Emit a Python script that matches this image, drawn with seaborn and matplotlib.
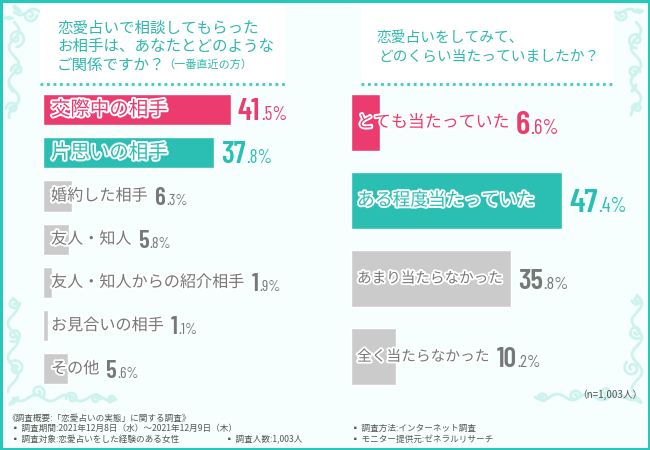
import numpy as np
import pandas as pd
import matplotlib
matplotlib.use("Agg")
import matplotlib.pyplot as plt
import matplotlib.patheffects as pe
from matplotlib.patches import Rectangle, Ellipse
import seaborn as sns

# ─── Data ─────────────────────────────────────────────────────────────
LEFT_CATEGORIES = ["交際中の相手", "片思いの相手", "婚約した相手", "友人・知人",
                   "友人・知人からの紹介相手", "お見合いの相手", "その他"]
LEFT_VALUES = [41.5, 37.8, 6.3, 5.8, 1.9, 1.1, 5.6]
RIGHT_CATEGORIES = ["とても当たっていた", "ある程度当たっていた",
                    "あまり当たらなかった", "全く当たらなかった"]
RIGHT_VALUES = [6.6, 47.4, 35.8, 10.2]

PINK = "#EC3B6E"
TEAL = "#2BBFB3"
GRAY = "#CBCBCB"
GRAY_TEXT = "#777777"
TITLE_COLOR = "#2FB8AC"
FOOT_COLOR = "#555555"
ORNAMENT = "#CDF3EE"
BACKGROUND = "#F6FFFD"
LEFT_COLORS = [PINK, TEAL] + [GRAY] * 5
RIGHT_COLORS = [PINK, TEAL, GRAY, GRAY]
LEFT_TEXT = [PINK, TEAL] + [GRAY_TEXT] * 5
RIGHT_TEXT = [PINK, TEAL, GRAY_TEXT, GRAY_TEXT]

# full-width signs as in the source
LP, RP, QM, WAVE = "\uff08", "\uff09", "\uff1f", "\uff5e"

sns.set_theme(style="white")
plt.rcParams["font.family"] = ["Noto Sans CJK JP", "DejaVu Sans"]
NUM_FONT = ["Barlow Condensed", "Roboto", "DejaVu Sans"]
PX = 0.72  # points per pixel at dpi 100
W, H = 650, 450


def px_axes(fig, x0, y0, x1, y1):
    """Axes placed by pixel box, y measured from the top."""
    return fig.add_axes([x0 / W, 1 - y1 / H, (x1 - x0) / W, (y1 - y0) / H])


def curl(ax, cx, cy, r, start=0.0, turns=1.3, flip=1, lw=2.0):
    """Small spiral used for the corner ornaments."""
    t = np.linspace(0, turns * 2 * np.pi, 60)
    rad = r * (1 - t / t.max() * 0.8)
    ax.plot(cx + rad * np.cos(start + flip * t), cy + rad * np.sin(start + flip * t),
            color=ORNAMENT, lw=lw, solid_capstyle="round", zorder=2)


def leaf(ax, cx, cy, w, h, angle):
    ax.add_patch(Ellipse((cx, cy), w, h, angle=angle, color=ORNAMENT, lw=0, zorder=2))


def vine_v(ax, x, y0, y1, amp=5, period=34):
    y = np.linspace(y0, y1, 80)
    ax.plot(x + amp * np.sin((y - y0) / period * 2 * np.pi), y, color=ORNAMENT, lw=2.0, zorder=2)


def vine_h(ax, y, x0, x1, amp=3, period=30):
    x = np.linspace(x0, x1, 80)
    ax.plot(x, y + amp * np.sin((x - x0) / period * 2 * np.pi), color=ORNAMENT, lw=2.0, zorder=2)


def draw_ornaments(ax):
    # top left
    vine_v(ax, 14, 22, 118)
    vine_h(ax, 12, 14, 40, amp=3, period=26)
    for cx, cy, r, s, f in [(30, 15, 7, 0, 1), (16, 38, 9, 1.5, -1), (17, 70, 6, 3, 1),
                            (12, 108, 6, 3, 1)]:
        curl(ax, cx, cy, r, s, flip=f)
    leaf(ax, 17, 9, 12, 5, 40)
    leaf(ax, 8, 18, 12, 4, 0)
    leaf(ax, 11, 88, 11, 4, 60)
    # bottom left
    vine_v(ax, 13, 298, 392)
    vine_h(ax, 398, 13, 116)
    for cx, cy, r, s, f in [(14, 303, 6, 0, 1), (14, 335, 7, 2, -1), (16, 368, 8, 4, 1),
                            (38, 392, 7, 1, -1), (72, 398, 6, 3, 1), (96, 399, 5, 0, -1),
                            (112, 399, 4, 2, 1)]:
        curl(ax, cx, cy, r, s, flip=f)
    leaf(ax, 14, 401, 14, 5, -40)
    # top right
    vine_v(ax, 636, 22, 115)
    vine_h(ax, 11, 612, 640, amp=2, period=24)
    for cx, cy, r, s, f in [(622, 15, 6, 3, -1), (636, 40, 8, 1.5, 1), (634, 72, 6, 0, -1),
                            (637, 108, 5, 3, 1)]:
        curl(ax, cx, cy, r, s, flip=f)
    leaf(ax, 638, 11, 12, 5, 0)
    leaf(ax, 634, 88, 11, 4, -60)
    # bottom right
    vine_v(ax, 637, 295, 392)
    vine_h(ax, 397, 535, 637)
    for cx, cy, r, s, f in [(637, 300, 5, 3, -1), (636, 332, 7, 1, 1), (632, 368, 8, 4, -1),
                            (606, 393, 6, 2, 1), (575, 396, 6, 0, -1), (543, 398, 5, 3, 1)]:
        curl(ax, cx, cy, r, s, flip=f)
    leaf(ax, 637, 399, 14, 5, 40)


def draw_background(fig):
    ax = fig.add_axes([0, 0, 1, 1])
    ax.set_xlim(0, W)
    ax.set_ylim(H, 0)
    ax.set_axis_off()
    ax.add_patch(Rectangle((0, 0), W, H, color=BACKGROUND, lw=0, zorder=0))
    draw_ornaments(ax)
    # white header panels with dotted rule
    for x0, x1 in [(40, 285), (361, 614)]:
        ax.add_patch(Rectangle((x0, 5), x1 - x0, 79, color="white", lw=0, zorder=3))
        ax.plot([x0, x1], [84, 84], color="#3CCBC0", lw=2, ls=(0, (1, 1.35)), zorder=4)
    ax.add_patch(Rectangle((1, 1), W - 2, H - 2, fill=False, ec="#27C7BC", lw=2.2, zorder=5))

    # header text
    for y, line in [(28, "恋愛占いで相談してもらった"), (46, "お相手は、あなたとどのような"),
                    (65, "ご関係ですか" + QM)]:
        ax.text(57, y, line, fontsize=11.2, color=TITLE_COLOR, va="center", zorder=6)
    ax.text(163, 65, LP + "一番直近の方" + RP, fontsize=8, color=TITLE_COLOR, va="center", zorder=6)
    for y, x, line in [(38, 377, "恋愛占いをしてみて、"), (57, 378, "どのくらい当たっていましたか" + QM)]:
        ax.text(x, y, line, fontsize=10.6, color=TITLE_COLOR, va="center", zorder=6)

    # survey notes
    notes = [(7, 418, "《調査概要:「恋愛占いの実態」に関する調査》"),
             (11, 428, f"▪ 調査期間:2021年12月8日{LP}水{RP}{WAVE}2021年12月9日{LP}木{RP}"),
             (11, 439, "▪ 調査対象:恋愛占いをした経験のある女性"),
             (225, 439, "▪ 調査人数:1,003人"),
             (351, 428, "▪ 調査方法:インターネット調査"),
             (351, 439, "▪ モニター提供元:ゼネラルリサーチ")]
    for x, y, line in notes:
        ax.text(x, y, line, fontsize=6.2, color=FOOT_COLOR, va="center", zorder=6)
    ax.text(577, 395, f"{LP}n=1,003人{RP}", fontsize=7, color=FOOT_COLOR, va="center", zorder=6)


def draw_panel(fig, box, xmax, categories, values, colors, text_colors, bar_width,
               label_sizes, number_sizes, label_offset, number_gap):
    """One horizontal bar panel: bar, stroked label, then a big/small percentage."""
    ax = px_axes(fig, *box)
    df = pd.DataFrame({"category": categories, "value": values})
    sns.barplot(data=df, y="category", x="value", hue="category", dodge=False,
                palette=dict(zip(categories, colors)), legend=False, width=bar_width,
                saturation=1, ax=ax)
    ax.set_xlim(0, xmax)
    ax.set_ylim(len(categories) - 0.5, -0.5)
    ax.set_axis_off()
    ax.patch.set_visible(False)

    fig.canvas.draw()
    renderer = fig.canvas.get_renderer()
    for i, (cat, val) in enumerate(zip(categories, values)):
        stroke = [pe.withStroke(linewidth=2.8, foreground="white")]
        label = ax.annotate(cat, xy=(0, i), xytext=(label_offset * PX, 0),
                            textcoords="offset points", va="center", ha="left",
                            fontsize=label_sizes[i], color=text_colors[i],
                            path_effects=stroke, zorder=5)
        bar_end = ax.transData.transform((val, i))[0]
        text_end = label.get_window_extent(renderer).x1
        start = max(bar_end, text_end) + number_gap
        origin = ax.transData.transform((0, i))[0]

        # big digits and small decimals share one baseline
        size = number_sizes[i]
        base = -size * 0.35
        whole, frac = f"{val:.1f}".split(".")
        big = ax.annotate(whole, xy=(0, i), xytext=((start - origin) * PX, base),
                          textcoords="offset points", va="baseline", ha="left",
                          fontsize=size, fontweight=600,
                          color=text_colors[i], family=NUM_FONT, zorder=5)
        big_end = big.get_window_extent(renderer).x1 + 0.5
        ax.annotate(f".{frac}%", xy=(0, i), xytext=((big_end - origin) * PX, base),
                    textcoords="offset points", va="baseline", ha="left",
                    fontsize=size * 0.62, color=text_colors[i],
                    family=NUM_FONT, zorder=5)
    return ax


def main():
    fig = plt.figure(figsize=(6.5, 4.5), dpi=100)
    draw_background(fig)

    # 4.53 px per percent on the left, 4.46 on the right
    draw_panel(fig, (43, 88, 320, 390.4), 277 / 4.53, LEFT_CATEGORIES, LEFT_VALUES,
               LEFT_COLORS, LEFT_TEXT, 0.72, [14, 14, 11.6, 11.6, 11.6, 11.6, 11.6],
               [22, 21.5, 18, 18, 18, 18, 18], 8, 7)
    draw_panel(fig, (351, 83, 630, 396), 279 / 4.46, RIGHT_CATEGORIES, RIGHT_VALUES,
               RIGHT_COLORS, RIGHT_TEXT, 0.73, [12.2, 12.8, 10.5, 10.6],
               [24, 24, 21, 20], 6, 7)

    fig.savefig("out.png", dpi=100)
    plt.close(fig)


if __name__ == "__main__":
    main()
